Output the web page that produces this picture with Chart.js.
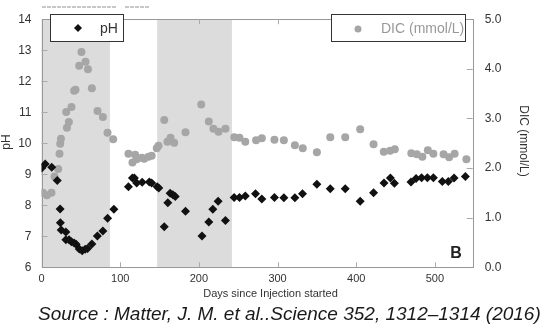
<!DOCTYPE html>
<html>
<head>
<meta charset="utf-8">
<script src="https://cdn.jsdelivr.net/npm/chart.js@4"></script>
<style>
    body { margin: 0; background: #fff; }
    #wrap { position: relative; width: 559px; height: 335px; }
    #source { position: absolute; left: 38px; top: 304px; font: italic 19px/19px "Liberation Sans", Arial, sans-serif; color: #1a1a1a; white-space: nowrap; }
</style>
</head>
<body>
<div id="wrap">
    <canvas id="grafico" width="559" height="335"></canvas>
    <div id="source">Source : Matter, J. M. et al..Science 352, 1312–1314 (2016)</div>
</div>
<script>
// pH (eixo esquerdo)
const phDays = [0.4, 4.7, 13, 20, 23.7, 24, 25, 31, 31, 35, 38, 41.5, 44, 48, 51.7, 55.5, 58.5, 64, 71, 78, 84, 92,
    110.5, 115.6, 118, 121, 128, 137, 140, 147, 149, 156, 160.5, 163.5, 167, 170, 183, 204, 212.6, 217.7, 224.5, 233.8,
    244.8, 251.6, 259, 272, 280, 296, 308, 322, 331.7, 350, 367, 386, 405, 422, 435.3, 443.4, 448.5,
    469.6, 476, 483, 490.4, 498, 509.4, 517, 524.3, 538.7];
const phValues = [9.2, 9.33, 9.23, 8.8, 7.88, 7.44, 7.2, 7.14, 6.89, 6.89, 6.82, 6.78, 6.74, 6.59, 6.53, 6.58, 6.61, 6.75, 7.01, 7.17, 7.58, 7.87,
    8.6, 8.88, 8.88, 8.72, 8.74, 8.75, 8.72, 8.6, 8.56, 7.31, 8.08, 8.39, 8.34, 8.28, 7.81, 7.01, 7.46, 7.87, 8.13, 7.51,
    8.25, 8.25, 8.3, 8.37, 8.2, 8.25, 8.24, 8.24, 8.37, 8.68, 8.53, 8.53, 8.13, 8.4, 8.72, 8.88, 8.71,
    8.75, 8.86, 8.89, 8.89, 8.89, 8.77, 8.77, 8.88, 8.93];

// DIC (eixo direito)
const dicDays = [1.8, 6.9, 12.7, 16.5, 21.2, 22.9, 23.8, 24.7, 32.3, 34.8, 31.4, 38.1, 41.5, 43.2, 47.9, 50.8, 55.9, 59, 64, 71.2, 78, 83.9, 91.1,
    110.5, 115.6, 119, 121, 127.5, 130.5, 136, 140, 146.5, 148.7, 156, 160, 164, 168.6, 183, 203, 212.6, 218.5, 225, 233.8,
    245, 251.6, 259, 272.7, 280, 296, 308, 322, 332, 350, 367, 386, 405, 422, 435, 443, 449,
    470, 477, 484, 491, 498, 511, 518, 525, 540];
const dicValues = [1.5, 1.45, 1.5, 1.83, 1.98, 2.29, 2.49, 2.59, 2.81, 2.93, 3.13, 3.23, 3.56, 3.58, 4.06, 4.34, 4.14, 3.99, 3.61, 3.15, 3.03, 2.71, 2.58,
    2.29, 2.11, 2.27, 2.18, 2.21, 2.19, 2.23, 2.25, 2.4, 2.45, 2.97, 2.53, 2.61, 2.51, 2.72, 3.28, 2.94, 2.79, 2.73, 2.79,
    2.62, 2.61, 2.53, 2.56, 2.6, 2.57, 2.56, 2.46, 2.40, 2.32, 2.62, 2.62, 2.78, 2.48, 2.33, 2.35, 2.38,
    2.30, 2.28, 2.23, 2.36, 2.29, 2.28, 2.22, 2.29, 2.18];

// períodos de injeção (faixas cinza)
const bandStarts = [0, 147];
const bandEnds = [87, 242];

const xTicks = [100, 200, 300, 400, 500];
const FONT = '"Liberation Sans", Arial, sans-serif';

const moldura = {
    id: 'moldura',
    beforeDatasetsDraw(chart) {
        const { ctx, chartArea: a, scales } = chart;
        ctx.save();
        ctx.fillStyle = '#dcdcdc';
        bandStarts.forEach((s, i) => {
            const x0 = scales.x.getPixelForValue(s), x1 = scales.x.getPixelForValue(bandEnds[i]);
            ctx.fillRect(x0, a.top, x1 - x0, a.bottom - a.top);
        });
        ctx.strokeStyle = '#999';
        ctx.lineWidth = 1;
        ctx.strokeRect(Math.round(a.left) + 0.5, Math.round(a.top) + 0.5, Math.round(a.right - a.left), Math.round(a.bottom - a.top));
        ctx.strokeStyle = '#aaa';
        ctx.beginPath();
        xTicks.forEach(v => {
            const x = Math.round(scales.x.getPixelForValue(v)) + 0.5;
            ctx.moveTo(x, a.bottom); ctx.lineTo(x, a.bottom - 5);
            ctx.moveTo(x, a.top); ctx.lineTo(x, a.top + 5);
        });
        for (let v = 7; v < 14; v++) {
            const y = Math.round(scales.y.getPixelForValue(v)) + 0.5;
            ctx.moveTo(a.left, y); ctx.lineTo(a.left + 6, y);
        }
        for (let v = 1; v < 5; v++) {
            const y = Math.round(scales.y1.getPixelForValue(v)) + 0.5;
            ctx.moveTo(a.right, y); ctx.lineTo(a.right - 6, y);
        }
        ctx.stroke();
        ctx.restore();
    },
    afterDraw(chart) {
        const { ctx } = chart;
        ctx.save();
        // restos de texto cortado no topo
        ctx.strokeStyle = '#c8c8c8';
        ctx.lineWidth = 2;
        ctx.setLineDash([4, 1]);
        ctx.beginPath();
        ctx.moveTo(42, 7); ctx.lineTo(117, 7);
        ctx.moveTo(125, 7); ctx.lineTo(150, 7);
        ctx.stroke();
        ctx.setLineDash([]);

        // legendas
        ctx.lineWidth = 1;
        ctx.strokeStyle = '#333';
        ctx.fillStyle = '#fff';
        ctx.fillRect(50.5, 14.5, 73, 27);
        ctx.strokeRect(50.5, 14.5, 73, 27);
        ctx.fillRect(331.5, 14.5, 134, 27);
        ctx.strokeRect(331.5, 14.5, 134, 27);

        ctx.fillStyle = '#111';
        ctx.beginPath();
        ctx.moveTo(78, 24); ctx.lineTo(82, 28); ctx.lineTo(78, 32); ctx.lineTo(74, 28);
        ctx.closePath(); ctx.fill();
        ctx.fillStyle = '#a6a6a6';
        ctx.beginPath(); ctx.arc(358, 29, 3.5, 0, Math.PI * 2); ctx.fill();

        ctx.font = '14px ' + FONT;
        ctx.textBaseline = 'middle';
        ctx.textAlign = 'left';
        ctx.fillStyle = '#333';
        ctx.fillText('pH', 100, 29);
        ctx.fillStyle = '#999';
        ctx.fillText('DIC (mmol/L)', 381, 29);

        // títulos dos eixos
        ctx.fillStyle = '#333';
        ctx.font = '11px ' + FONT;
        ctx.textAlign = 'center';
        ctx.fillText('Days since Injection started', 270.5, 294);
        ctx.font = '12px ' + FONT;
        ctx.save();
        ctx.translate(7, 142); ctx.rotate(-Math.PI / 2);
        ctx.fillText('pH', 0, 0);
        ctx.restore();
        ctx.save();
        ctx.translate(523, 141); ctx.rotate(Math.PI / 2);
        ctx.fillText('DIC (mmol/L)', 0, 0);
        ctx.restore();

        ctx.font = 'bold 16px ' + FONT;
        ctx.fillStyle = '#222';
        ctx.fillText('B', 456, 254);
        ctx.restore();
    }
};

new Chart(document.getElementById('grafico').getContext('2d'), {
    type: 'scatter',
    data: {
        datasets: [
            { label: 'pH', data: phDays.map((d, i) => ({ x: d, y: phValues[i] })), yAxisID: 'y',
              pointStyle: 'rectRot', pointRadius: 4.5, backgroundColor: '#111', borderWidth: 0 },
            { label: 'DIC (mmol/L)', data: dicDays.map((d, i) => ({ x: d, y: dicValues[i] })), yAxisID: 'y1',
              pointStyle: 'circle', pointRadius: 4, backgroundColor: '#a6a6a6', borderWidth: 0 },
        ]
    },
    options: {
        responsive: false, animation: false,
        layout: { padding: { top: 19, left: 0, right: 0, bottom: 0 } },
        plugins: { legend: { display: false }, tooltip: { enabled: false } },
        scales: {
            x: {
                type: 'linear', min: 0, max: 548,
                grid: { display: false, drawTicks: false }, border: { display: false },
                ticks: { stepSize: 100, includeBounds: false, padding: 5, color: '#333', font: { family: FONT, size: 11 } },
                afterFit: s => { s.height = 67.7; }
            },
            y: {
                position: 'left', min: 6, max: 14,
                grid: { display: false, drawTicks: false }, border: { display: false },
                ticks: { stepSize: 1, padding: 10, color: '#333', font: { family: FONT, size: 12 } },
                afterFit: s => { s.width = 41.5; }
            },
            y1: {
                position: 'right', min: 0, max: 5,
                grid: { display: false, drawTicks: false }, border: { display: false },
                ticks: { stepSize: 1, padding: 12, color: '#333', font: { family: FONT, size: 12 }, callback: v => v.toFixed(1) },
                afterFit: s => { s.width = 86.3; }
            }
        }
    },
    plugins: [moldura]
});
</script>
</body>
</html>
